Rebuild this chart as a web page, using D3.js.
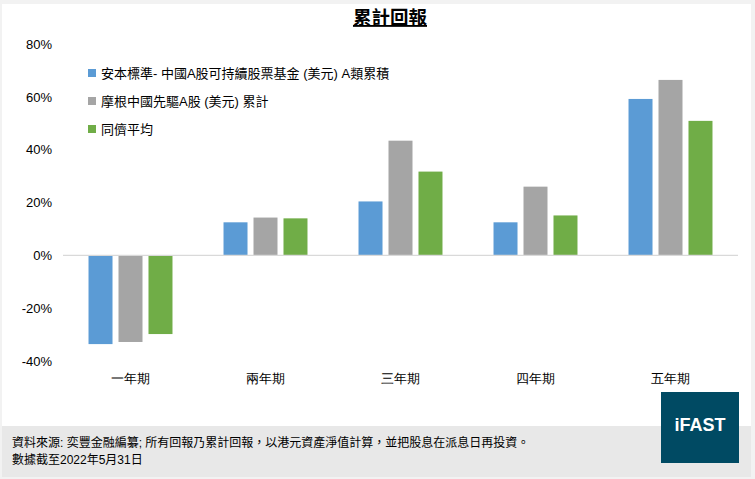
<!DOCTYPE html>
<html><head><meta charset="utf-8">
<script src="https://cdn.jsdelivr.net/npm/d3@7"></script>
<style>
html,body{margin:0;padding:0;background:#fff;}
svg{display:block;font-family:"Liberation Sans","Noto Sans CJK TC",sans-serif;}
</style></head><body>
<svg id="c" width="755" height="479"></svg>
<script>
const categories = ["一年期","兩年期","三年期","四年期","五年期"];
const seriesNames = ["安本標準- 中國A股可持續股票基金 (美元) A類累積","摩根中國先驅A股 (美元) 累計","同儕平均"];
const fundValues = [-33.6, 12.5, 20.4, 12.5, 59.2];
const peerFundValues = [-32.8, 14.3, 43.4, 26.0, 66.4];
const averageValues = [-29.8, 14.0, 31.7, 15.1, 50.9];
const yTicks = [-40, -20, 0, 20, 40, 60, 80];
const colors = ["#5b9bd5", "#a5a5a5", "#70ad47"];
const series = [fundValues, peerFundValues, averageValues];

const svg = d3.select("#c");
const W = 755, H = 479;
svg.append("rect").attr("width", W).attr("height", H).attr("fill", "#f2f2f2");
svg.append("rect").attr("x", 2).attr("y", 4).attr("width", 749).attr("height", 422).attr("fill", "#fff");
svg.append("rect").attr("x", 2).attr("y", 426).attr("width", 749).attr("height", 51).attr("fill", "#e8e8e8");

const y = d3.scaleLinear().domain([-40, 80]).range([361, 44]);
const x0 = d3.scaleBand().domain(categories).range([63, 738]).paddingInner(0.378).paddingOuter(0.189);
const x1 = d3.scaleBand().domain([0,1,2]).range([0, x0.bandwidth()]).paddingInner(0.2);

// title
svg.append("text").attr("x", 390).attr("y", 24).attr("text-anchor", "middle")
  .attr("font-size", 18.5).attr("font-weight", "bold").attr("text-decoration", "underline")
  .attr("fill", "#000").text("累計回報");

// y axis labels
const yAxis = d3.axisLeft(y).tickValues(yTicks).tickFormat(d => d + "%").tickSize(0).tickPadding(0);
const ya = svg.append("g").attr("transform", "translate(52,0)").call(yAxis);
ya.select(".domain").remove();
ya.selectAll("text").attr("font-size", 13).attr("fill", "#000")
  .attr("font-family", "Liberation Sans, sans-serif");

// bars
const g = svg.append("g");
categories.forEach((c, i) => {
  series.forEach((s, j) => {
    const v = s[i];
    g.append("rect")
      .attr("x", x0(c) + x1(j))
      .attr("width", x1.bandwidth())
      .attr("y", y(Math.max(0, v)))
      .attr("height", Math.abs(y(v) - y(0)))
      .attr("fill", colors[j]);
  });
});

// zero line
svg.append("line").attr("x1", 63).attr("x2", 738).attr("y1", y(0)).attr("y2", y(0))
  .attr("stroke", "#d9d9d9").attr("stroke-width", 1.2);

// x axis labels
const xAxis = d3.axisBottom(x0).tickSize(0).tickPadding(0);
const xa = svg.append("g").attr("transform", "translate(0,374)").call(xAxis);
xa.select(".domain").remove();
xa.selectAll("text").attr("font-size", 12.5).attr("fill", "#000").attr("dy", "0.71em");

// legend
const leg = svg.append("g");
seriesNames.forEach((n, j) => {
  const ly = 73 + j * 28;
  leg.append("rect").attr("x", 88).attr("y", ly - 4).attr("width", 8).attr("height", 8).attr("fill", colors[j]);
  leg.append("text").attr("x", 101).attr("y", ly).attr("dy", "0.36em")
    .attr("font-size", 13).attr("fill", "#000").text(n);
});

// footer
svg.append("text").attr("x", 12).attr("y", 447).attr("font-size", 12).attr("fill", "#000")
  .text("資料來源: 奕豐金融編纂; 所有回報乃累計回報，以港元資產淨值計算，並把股息在派息日再投資。");
svg.append("text").attr("x", 12).attr("y", 464).attr("font-size", 12).attr("fill", "#000")
  .text("數據截至2022年5月31日");

// logo
svg.append("rect").attr("x", 661).attr("y", 392).attr("width", 78).attr("height", 71).attr("fill", "#004a63");
svg.append("text").attr("x", 700).attr("y", 431).attr("text-anchor", "middle")
  .attr("font-size", 18).attr("font-weight", "bold").attr("fill", "#fff")
  .attr("font-family", "Liberation Sans, sans-serif").text("iFAST");
</script></body></html>
